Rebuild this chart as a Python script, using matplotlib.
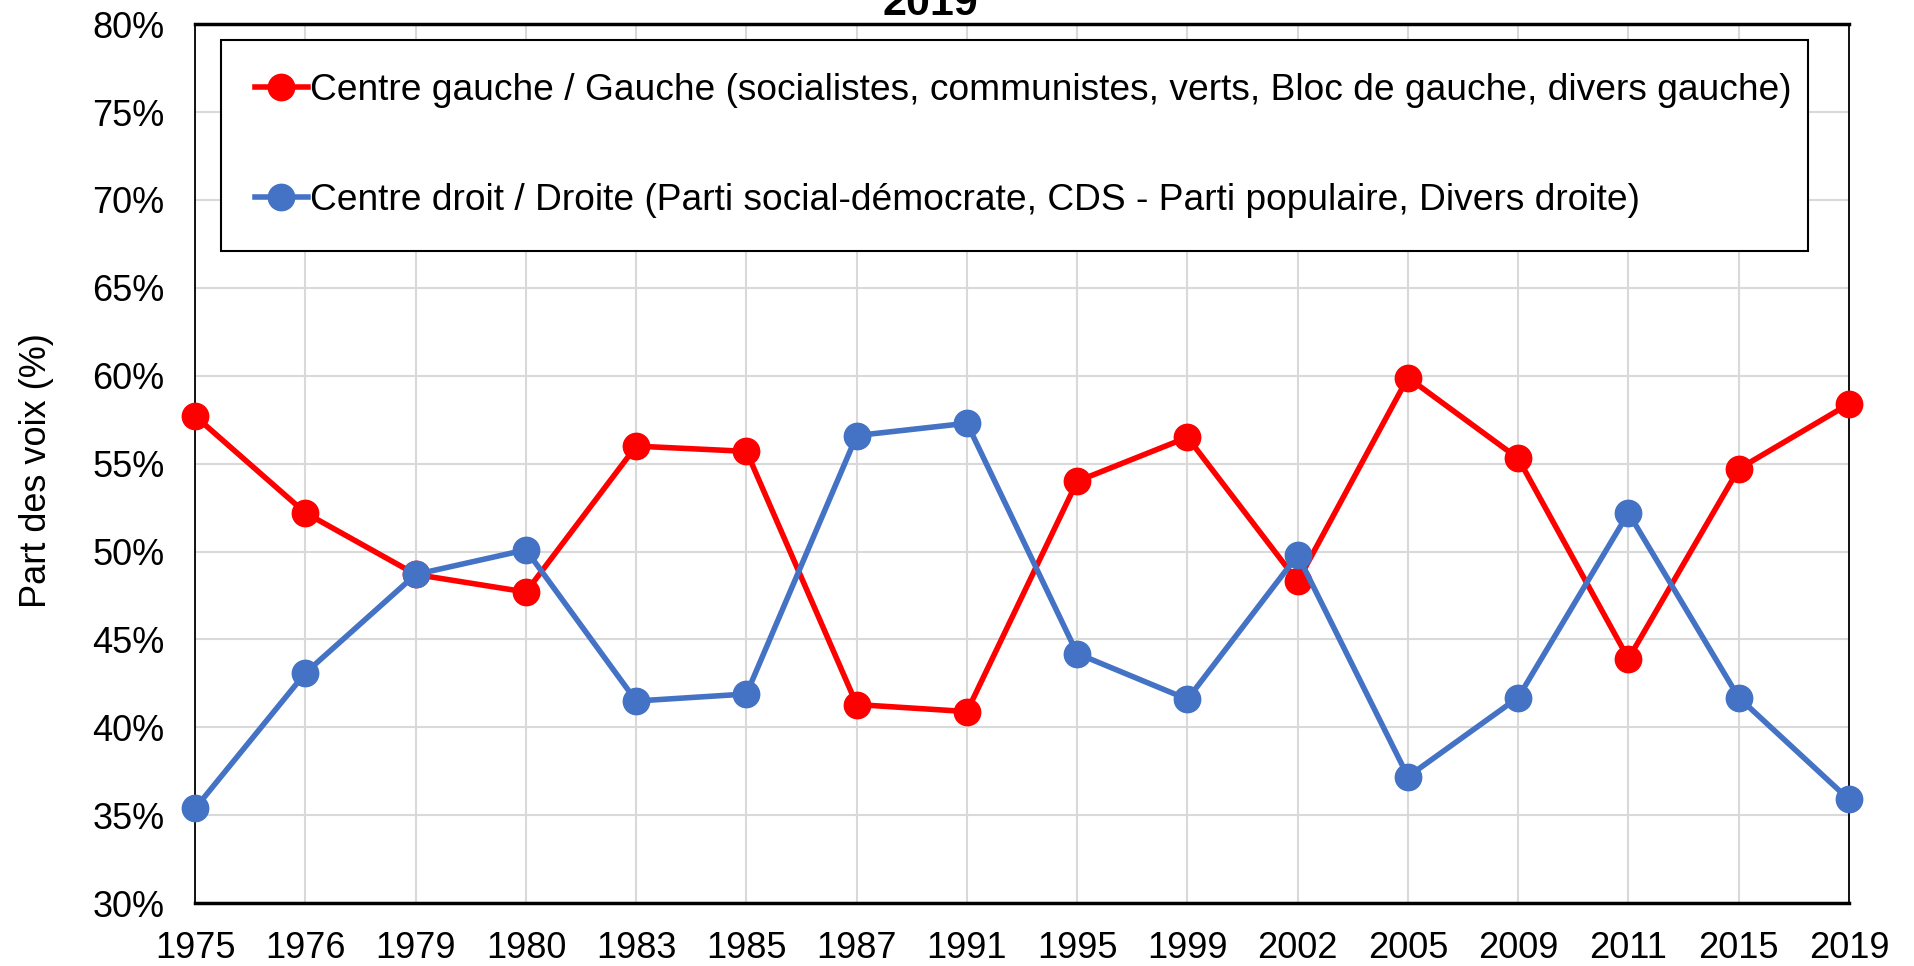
import matplotlib
matplotlib.use("Agg")
import matplotlib.pyplot as plt
from matplotlib.ticker import FuncFormatter

plt.rcParams['font.family'] = ['Liberation Sans', 'DejaVu Sans']

# data
years = ["1975", "1976", "1979", "1980", "1983", "1985", "1987", "1991",
         "1995", "1999", "2002", "2005", "2009", "2011", "2015", "2019"]
gauche = [57.7, 52.2, 48.7, 47.7, 56.0, 55.7, 41.3, 40.9,
          54.0, 56.5, 48.3, 59.9, 55.3, 43.9, 54.7, 58.4]
droite = [35.4, 43.1, 48.7, 50.1, 41.5, 41.9, 56.6, 57.3,
          44.2, 41.6, 49.8, 37.2, 41.7, 52.2, 41.7, 35.9]

label_g = "Centre gauche / Gauche (socialistes, communistes, verts, Bloc de gauche, divers gauche)"
label_d = "Centre droit / Droite (Parti social-démocrate, CDS - Parti populaire, Divers droite)"

fig = plt.figure(figsize=(19.14, 9.66), dpi=100)
ax = fig.add_axes([0.102, 0.065, 0.864, 0.91])

x = list(range(len(years)))
ax.plot(x, gauche, color='#ff0000', lw=4, marker='o', ms=19, label=label_g, zorder=3, clip_on=False)
ax.plot(x, droite, color='#4472c4', lw=4, marker='o', ms=19, label=label_d, zorder=3, clip_on=False)

ax.set_xlim(0, len(years) - 1)
ax.set_ylim(30, 80)
ax.set_yticks(range(30, 81, 5))
ax.yaxis.set_major_formatter(FuncFormatter(lambda v, p: f"{v:.0f}%"))
ax.set_xticks(x)
ax.set_xticklabels(years)
ax.tick_params(axis='both', labelsize=26, length=0)
ax.tick_params(axis='x', pad=20)
ax.tick_params(axis='y', pad=22)

ax.grid(True, color='#d9d9d9', lw=1.5, zorder=0)
ax.set_axisbelow(True)
for side in ['top', 'bottom']:
    ax.spines[side].set_linewidth(2.5)
for side in ['left', 'right']:
    ax.spines[side].set_linewidth(1.3)

fig.text(0.019, 0.513, "Part des voix (%)", fontsize=26, rotation=90,
         ha='center', va='center')
fig.text(0.486, 0.9845, "2019", fontsize=31, fontweight='bold',
         ha='center', va='baseline')

leg = ax.legend(loc='upper left', bbox_to_anchor=(0.0157, 0.5, 0.9595, 0.482),
                mode='expand', fontsize=26.7,
                frameon=True, fancybox=False, edgecolor='black', framealpha=1,
                handlelength=1.45, handletextpad=0.05, labelspacing=2.0,
                borderpad=0.9, borderaxespad=0)
leg.get_frame().set_linewidth(1.5)

fig.savefig("out.png", dpi=100)
